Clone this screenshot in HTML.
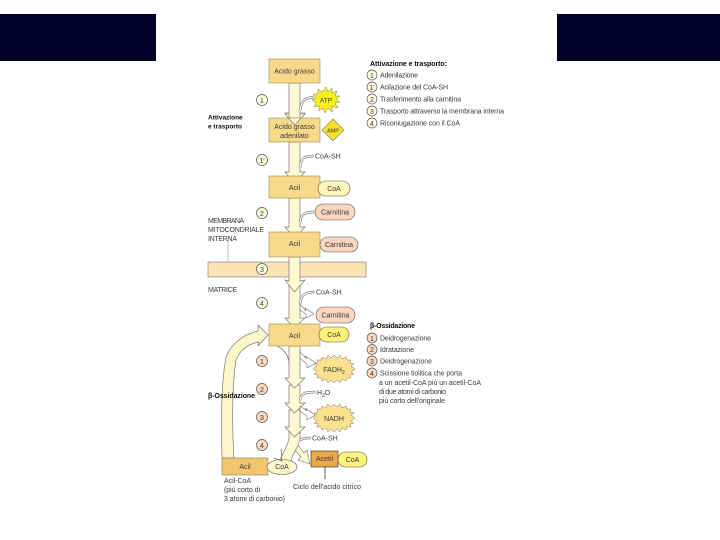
<!DOCTYPE html>
<html><head><meta charset="utf-8"><style>
html,body{margin:0;padding:0;background:#fff;width:720px;height:540px;overflow:hidden}
svg{display:block}
text{font-family:"Liberation Sans",sans-serif;font-size:7px;fill:#3a3a3a}
.b{font-weight:bold;fill:#111}
.box{fill:#f8d98c;stroke:#a08a55;stroke-width:.6}
.sh{fill:#fdf9d2;stroke:#777;stroke-width:.7}
.num{fill:#fdfbe0;stroke:#555;stroke-width:.7}
.sal{fill:#f9d9c0;stroke:#555;stroke-width:.7}
.pill{stroke:#555;stroke-width:.6}
.cur{fill:none;stroke:#666;stroke-width:2.4}
.cur2{fill:none;stroke:#fff;stroke-width:1.3}
</style></head><body>
<svg width="720" height="540" viewBox="0 0 720 540" xmlns="http://www.w3.org/2000/svg">
<defs><filter id="s" x="-5%" y="-5%" width="110%" height="110%"><feGaussianBlur stdDeviation="0.38"/></filter></defs>
<rect x="0" y="14" width="156" height="47" fill="#000028"/>
<rect x="557" y="14" width="163" height="47" fill="#000028"/>
<g filter="url(#s)">
<!-- membrane -->
<rect x="208" y="262" width="158" height="15" fill="#fbe3b4" stroke="#777" stroke-width=".6"/>
<path d="M228 240V262" stroke="#999" stroke-width=".6"/>
<!-- loop arrow -->
<path d="M222 458C221 420 221 385 226 357C232 342 245 334 258 331L258 325L268 335L258 346L259 342C248 344 240 350 236 360C232 385 232 430 234 458Z" fill="#fdf6c8" stroke="#777" stroke-width=".7"/>
<path d="M277 346C285 350 289 356 289 364" fill="none" stroke="#777" stroke-width=".7"/>
<!-- right branch to Acetil -->
<path d="M297 444L304 453L307 450L310 464L298 460L301 457L293 448Z" fill="#fdf9d2" stroke="#777" stroke-width=".6"/>
<!-- bottom widening shaft -->
<path d="M289 430L289 438C288 446 284 450 280 460L291 461C293 452 299 447 300 438L300 430Z" fill="#fdf9d2" stroke="#777" stroke-width=".7"/>
<!-- shafts and heads, lower first so chevrons overlap -->
<path class="sh" d="M289 410H300V427H305L294.500 437L285 427H289Z"/>
<path class="sh" d="M289 385H300V403H305L294.500 413L285 403H289Z"/>
<path class="sh" d="M289 346H300V378H305L294.500 388L285 378H289Z"/>
<path class="sh" d="M289 286H300V318H305L294.500 328L285 318H289Z"/>
<path class="sh" d="M289 257H300V281L305 280L294.500 292L285 280L289 281Z"/>
<path class="sh" d="M289 198H300V227H305L294.500 238L285 227H289Z"/>
<path class="sh" d="M289 142H300V172H305L294.500 183L285 172H289Z"/>
<path class="sh" d="M289 83H300V113H305L294.500 126L285 113H289Z"/>
<!-- boxes -->
<rect class="box" x="269" y="59" width="51" height="24"/>
<path class="sh" d="M289 83H300V113H305L294.500 122L285 113H289Z" style="display:none"/>
<rect class="box" x="269" y="176" width="51" height="22"/>
<rect class="box" x="269" y="232" width="51" height="25"/>
<rect class="box" x="269" y="324" width="51" height="22"/>
<rect class="box" x="269" y="118" width="51" height="24"/>
<path d="M285 114L294.500 125L305 114L300 114V118H289V114Z" fill="#fdf9d2" stroke="#777" stroke-width=".6"/>
<rect x="222" y="458" width="46" height="17" fill="#f2c66c" stroke="#8d7a4a" stroke-width=".6"/>
<ellipse cx="282" cy="467" rx="15" ry="7.500" fill="#fdf6c8" stroke="#666" stroke-width=".6"/>
<path d="M281 449L282 461L274 458" fill="none" stroke="#666" stroke-width=".7"/>
<rect x="311" y="451" width="27" height="16" fill="#eba94c" stroke="#444" stroke-width=".7"/>
<rect x="338" y="452" width="29" height="15" rx="7.500" fill="#fdf27c" stroke="#555" stroke-width=".6"/>
<path d="M325 467V479" stroke="#333" stroke-width=".8"/>
<!-- pills -->
<rect class="pill" x="318" y="181" width="32" height="15" rx="7.500" fill="#fdf6b8"/>
<rect class="pill" x="315" y="204" width="40" height="16" rx="8" fill="#f9d6bf"/>
<rect class="pill" x="320" y="237" width="38" height="15" rx="7.500" fill="#f9d6bf"/>
<rect class="pill" x="316" y="307" width="39" height="16" rx="8" fill="#f9d6bf"/>
<rect class="pill" x="319" y="327" width="30" height="15" rx="7.500" fill="#fbf07a"/>
<!-- stars -->
<polygon points="326,87 328,92 332,88 332,93 337,91 335,96 340,96 336,99 340,102 335,103 338,108 332,106 332,112 328,108 325,113 323,108 319,111 319,106 314,107 316,103 312,100 316,98 313,94 318,94 318,89 322,92" fill="#f8ee1e" stroke="#777" stroke-width=".5"/>
<polygon points="333,119 344,130 333,141 322,130" fill="#f8e02a" stroke="#777" stroke-width=".6"/>
<polygon id="st" points="334,355 337,358 340,355 342,359 346,357 347,360 351,360 350,363 354,364 351,366 355,369 351,372 354,374 350,375 351,378 347,378 346,381 342,379 340,383 337,380 334,383 331,380 328,383 326,379 322,381 321,378 317,378 318,375 314,374 317,372 313,369 317,366 314,364 318,363 317,360 321,360 322,357 326,359 328,355 331,358" fill="#fbe08e" stroke="#777" stroke-width=".5"/>
<use href="#st" y="49"/>
<!-- side curves -->
<g>
<path class="cur" d="M300 110C302 99 306 98 314 97"/><path class="cur2" d="M300 110C302 99 306 98 314 97"/>
<path class="cur" d="M300 168C301 158 304 156 314 156"/><path class="cur2" d="M300 168C301 158 304 156 314 156"/>
<path class="cur" d="M300 222C301 214 305 212 315 212"/><path class="cur2" d="M300 222C301 214 305 212 315 212"/>
<path class="cur" d="M300 304C301 296 303 292 315 292"/><path class="cur2" d="M300 304C301 296 303 292 315 292"/>
<path d="M300 304L306 311L305 308L314 314L306 318L306 314L300 310Z" fill="#fff" stroke="#777" stroke-width=".6"/>
<path d="M300 352L307 359L305 356L316 363L307 368L307 364L300 358Z" fill="#fff" stroke="#777" stroke-width=".6"/>
<path class="cur" d="M300 400C302 393 305 392 316 392"/><path class="cur2" d="M300 400C302 393 305 392 316 392"/>
<path d="M300 406L307 411L305 408L315 415L307 420L307 416L300 411Z" fill="#fff" stroke="#777" stroke-width=".6"/>
<path class="cur" d="M300 440C303 438 306 438 311 438"/><path class="cur2" d="M300 440C303 438 306 438 311 438"/>
</g>
<!-- number circles -->
<g>
<circle class="num" cx="262" cy="100" r="5.500"/><circle class="num" cx="262" cy="160" r="5.500"/><circle class="num" cx="262" cy="213" r="5.500"/><circle class="num" cx="262" cy="269" r="5.500"/><circle class="num" cx="262" cy="303" r="5.500"/>
<circle class="sal" cx="262" cy="361" r="5.500"/><circle class="sal" cx="262" cy="389" r="5.500"/><circle class="sal" cx="262" cy="417" r="5.500"/><circle class="sal" cx="262" cy="445" r="5.500"/>
<circle class="num" cx="372" cy="75" r="5"/><circle class="num" cx="372" cy="87" r="5"/><circle class="num" cx="372" cy="99" r="5"/><circle class="num" cx="372" cy="111" r="5"/><circle class="num" cx="372" cy="123" r="5"/>
<circle class="sal" cx="372" cy="338" r="5"/><circle class="sal" cx="372" cy="349.500" r="5"/><circle class="sal" cx="372" cy="361" r="5"/><circle class="sal" cx="372" cy="373" r="5"/>
</g>
<g style="text-anchor:middle">
<text x="262" y="103">1</text><text x="262" y="163">1'</text><text x="262" y="216">2</text><text x="262" y="272">3</text><text x="262" y="306">4</text>
<text x="262" y="364">1</text><text x="262" y="392">2</text><text x="262" y="420">3</text><text x="262" y="448">4</text>
<text x="372" y="78">1</text><text x="372" y="90">1'</text><text x="372" y="102">2</text><text x="372" y="114">3</text><text x="372" y="126">4</text>
<text x="372" y="341">1</text><text x="372" y="352">2</text><text x="372" y="364">3</text><text x="372" y="376">4</text>
<text x="294.500" y="73.500">Acido grasso</text>
<text x="294.500" y="129">Acido grasso</text><text x="294.500" y="138">adenilato</text>
<text x="294.500" y="190">Acil</text><text x="294.500" y="246">Acil</text><text x="294.500" y="338">Acil</text>
<text x="245" y="469">Acil</text><text x="282" y="469">CoA</text><text x="324.500" y="461">Acetil</text><text x="352.500" y="462">CoA</text>
<text x="334" y="191">CoA</text><text x="335" y="214.500">Carnitina</text><text x="339" y="247">Carnitina</text><text x="335.500" y="317.500">Carnitina</text><text x="334" y="337">CoA</text>
<text x="326" y="102.500" style="font-size:6.500px">ATP</text><text x="333" y="132.500" style="font-size:5.500px">AMP</text>
<text x="334" y="372">FADH<tspan dy="2" style="font-size:5px">2</tspan></text><text x="334" y="421">NADH</text>
<text x="327" y="489" textLength="68">Ciclo dell'acido citrico</text>
</g>
<text x="315" y="158.500">CoA-SH</text>
<text x="316" y="294.500">CoA-SH</text>
<text x="317" y="395">H<tspan dy="2" style="font-size:5px">2</tspan><tspan dy="-2">O</tspan></text>
<text x="312" y="440.500">CoA-SH</text>
<text class="b" x="208" y="119.500" style="font-size:6.500px">Attivazione</text>
<text class="b" x="208" y="128.500" style="font-size:6.500px">e trasporto</text>
<text x="208" y="223" textLength="36">MEMBRANA</text>
<text x="208" y="232" textLength="56">MITOCONDRIALE</text>
<text x="208" y="241" textLength="29">INTERNA</text>
<text x="208" y="292" textLength="29">MATRICE</text>
<text class="b" x="208" y="398" textLength="47">β-Ossidazione</text>
<text x="224" y="483" textLength="27">Acil-CoA</text>
<text x="224" y="492" textLength="36">(più corto di</text>
<text x="224" y="501" textLength="61">3 atomi di carbonio)</text>
<text class="b" x="370" y="66" textLength="77">Attivazione e trasporto:</text>
<text x="380" y="77.500" textLength="38">Adenilazione</text>
<text x="380" y="89.500" textLength="68">Acilazione del CoA-SH</text>
<text x="380" y="101.500" textLength="81">Trasferimento alla carnitina</text>
<text x="380" y="113.500" textLength="124">Trasporto attraverso la membrana interna</text>
<text x="380" y="125.500" textLength="80">Riconiugazione con il CoA</text>
<text class="b" x="370" y="328" textLength="45">β-Ossidazione</text>
<text x="380" y="340.500" textLength="51">Deidrogenazione</text>
<text x="380" y="352" textLength="34">Idratazione</text>
<text x="380" y="363.500" textLength="52">Deidrogenazione</text>
<text x="380" y="375.500" textLength="82">Scissione tiolitica che porta</text>
<text x="379" y="385" textLength="102">a un acetil-CoA più un acetil-CoA</text>
<text x="379" y="394" textLength="67">di due atomi di carbonio</text>
<text x="379" y="403" textLength="66">più corto dell'originale</text>
</g>
</svg>
</body></html>
